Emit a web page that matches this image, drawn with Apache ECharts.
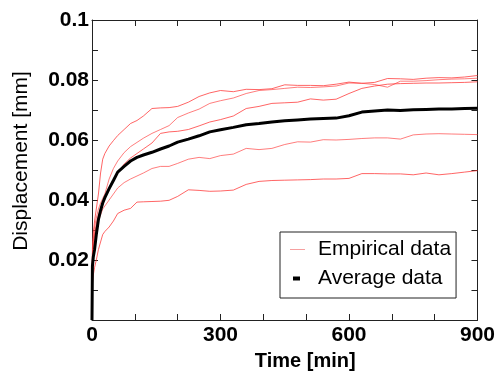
<!DOCTYPE html>
<html>
<head>
<meta charset="utf-8">
<script src="https://cdn.jsdelivr.net/npm/echarts@6/dist/echarts.min.js"></script>
<style>
html,body{margin:0;padding:0;background:#fff;}
#chart{width:498px;height:376px;}
</style>
</head>
<body>
<div id="chart"></div>
<script>
var times = [0,1,3,6,10,15,20,25,30,40,50,60,75,90,105,120,140,160,180,200,225,250,275,300,330,360,390,420,450,480,510,540,570,600,630,660,690,720,750,780,810,840,870,900];

var emp1 = [0,0.024,0.029,0.033,0.037,0.042,0.049,0.0536,0.0555,0.058,0.0598,0.0615,0.0635,0.0655,0.0665,0.068,0.0705,0.0707,0.0708,0.0712,0.0726,0.0745,0.0757,0.0765,0.0761,0.0769,0.0768,0.0771,0.0784,0.0782,0.0782,0.0781,0.0786,0.0793,0.0789,0.0792,0.0805,0.0804,0.0802,0.0806,0.0808,0.0807,0.081,0.0815];
var emp2 = [0,0.022,0.027,0.031,0.034,0.037,0.039,0.0405,0.042,0.047,0.0505,0.053,0.0558,0.0578,0.0592,0.0606,0.0622,0.0635,0.0648,0.0675,0.069,0.0703,0.0722,0.0731,0.074,0.0755,0.0765,0.0768,0.0772,0.0776,0.0775,0.0777,0.078,0.079,0.0789,0.0785,0.0776,0.0796,0.0796,0.0798,0.0801,0.0803,0.0804,0.0806];
var emp3 = [0,0.02,0.024,0.028,0.032,0.035,0.037,0.039,0.041,0.044,0.047,0.049,0.052,0.054,0.0555,0.057,0.059,0.0622,0.0627,0.0629,0.0635,0.0647,0.066,0.0668,0.068,0.0705,0.0712,0.0722,0.0724,0.0726,0.0737,0.0733,0.0736,0.0755,0.0772,0.078,0.0786,0.0788,0.0789,0.079,0.079,0.0791,0.0792,0.0794];
var emp4 = [0,0.022,0.026,0.029,0.031,0.033,0.035,0.037,0.038,0.04,0.042,0.044,0.0458,0.047,0.048,0.049,0.0505,0.0512,0.0512,0.0522,0.0536,0.0542,0.0538,0.0548,0.0553,0.0572,0.0568,0.0572,0.0585,0.0594,0.0593,0.0601,0.06,0.0602,0.0605,0.0607,0.0607,0.0603,0.0617,0.062,0.0621,0.062,0.0619,0.0618];
var emp5 = [0,0.012,0.015,0.0175,0.02,0.0235,0.026,0.0285,0.0295,0.031,0.033,0.0355,0.0366,0.0372,0.0393,0.0394,0.0395,0.0396,0.0399,0.0412,0.0434,0.0432,0.0429,0.043,0.0433,0.0452,0.0462,0.0465,0.0466,0.0467,0.0468,0.047,0.047,0.0472,0.0488,0.0488,0.0487,0.0487,0.0484,0.049,0.0484,0.0488,0.0493,0.0498];
var average = [0,0.018,0.021,0.0235,0.0284,0.0335,0.0365,0.039,0.0408,0.0438,0.0465,0.0493,0.0512,0.053,0.0542,0.055,0.0559,0.057,0.058,0.0593,0.0603,0.0614,0.0627,0.0634,0.0642,0.0651,0.0655,0.066,0.0664,0.0667,0.067,0.0672,0.0673,0.0681,0.0693,0.0697,0.07,0.0698,0.0701,0.0702,0.0703,0.0703,0.0705,0.0706];

var xTicks = [0,300,600,900];
var yTicks = [0.02,0.04,0.06,0.08,0.1];
var empiricalName = 'Empirical data';
var averageName = 'Average data';

function pairs(arr){ return times.map(function(t,i){ return [t, arr[i]]; }); }

var empColors = ['rgba(255,50,50,0.75)','rgba(255,70,70,0.7)','rgba(255,50,50,0.75)','rgba(255,70,70,0.7)','rgba(255,50,50,0.75)'];
var empSets = [emp1,emp2,emp3,emp4,emp5];

var series = empSets.map(function(arr,k){
  return {
    name: empiricalName, type:'line', data: pairs(arr), showSymbol:false, symbol:'none',
    lineStyle:{color:empColors[k], width:1}, itemStyle:{color:'#f6a0a0'}, z:2, silent:true, animation:false
  };
});
series.push({
  name: averageName, type:'line', data: pairs(average), showSymbol:false, symbol:'none',
  lineStyle:{color:'#000', width:3}, itemStyle:{color:'#000'}, z:5, silent:true, animation:false
});

function axLine(){ return {show:true, onZero:false, lineStyle:{color:'#222', width:1}}; }
function tickIn(){ return {show:true, inside:true, length:6, lineStyle:{color:'#222', width:1}}; }
function tickNeg(){ return {show:true, inside:false, length:-6, lineStyle:{color:'#222', width:1}}; }
function minor(n, neg){ return {show:true, splitNumber:n, length: neg ? -6 : 6, lineStyle:{color:'#222', width:1}}; }
var FONT = 'Liberation Sans, Arial, sans-serif';

var chart = echarts.init(document.getElementById('chart'), null, {renderer:'canvas'});
chart.setOption({
  animation:false,
  backgroundColor:'#fff',
  grid:{left:92, right:19, top:20, bottom:52},
  legend:{
    orient:'vertical', left:280, top:232,
    data:[{name:empiricalName, icon:'path://M0,0 L15,0 L15,1 L0,1 Z', itemStyle:{color:'#f6a0a0'}},
          {name:averageName, icon:'path://M0,0 L0,0 M3,-2 L10,-2 L10,2 L3,2 Z M15,0 L15,0', itemStyle:{color:'#000'}}],
    itemWidth:15, itemHeight:14, itemGap:8,
    padding:[7,5,9,10],
    borderColor:'#222', borderWidth:1, backgroundColor:'#fff',
    textStyle:{fontFamily:FONT, fontSize:21, color:'#000', padding:[0,0,0,8]},
    selectedMode:false
  },
  xAxis:[
    {
      type:'value', min:0, max:900, interval:300,
      axisLine:axLine(), axisTick:tickIn(), minorTick:minor(3,false), splitLine:{show:false},
      axisLabel:{fontFamily:FONT, fontWeight:'bold', fontSize:21, color:'#000', margin:5,
        formatter:function(v){ return xTicks.indexOf(v) >= 0 ? String(v) : ''; }},
      name:'Time [min]', nameLocation:'middle', nameGap:31,
      nameTextStyle:{fontFamily:FONT, fontWeight:'bold', fontSize:20, color:'#000', padding:[0,0,0,41]}
    },
    {
      type:'value', min:0, max:900, interval:300, position:'top',
      axisLine:axLine(), axisTick:tickNeg(), minorTick:minor(3,true), splitLine:{show:false},
      axisLabel:{show:false}
    }
  ],
  yAxis:[
    {
      type:'value', min:0, max:0.1, interval:0.02,
      axisLine:axLine(), axisTick:tickIn(), minorTick:minor(2,false), splitLine:{show:false},
      axisLabel:{fontFamily:FONT, fontWeight:'bold', fontSize:21, color:'#000', margin:3,
        formatter:function(v){ var r = +v.toFixed(2); return yTicks.indexOf(r) >= 0 ? String(r) : ''; }},
      name:'Displacement [mm]', nameLocation:'middle', nameGap:60, nameRotate:90,
      nameTextStyle:{fontFamily:FONT, fontSize:21, color:'#000', padding:[0,0,0,18]}
    },
    {
      type:'value', min:0, max:0.1, interval:0.02, position:'right',
      axisLine:axLine(), axisTick:tickNeg(), minorTick:minor(2,true), splitLine:{show:false},
      axisLabel:{show:false}
    }
  ],
  series: series
});
</script>
</body>
</html>
